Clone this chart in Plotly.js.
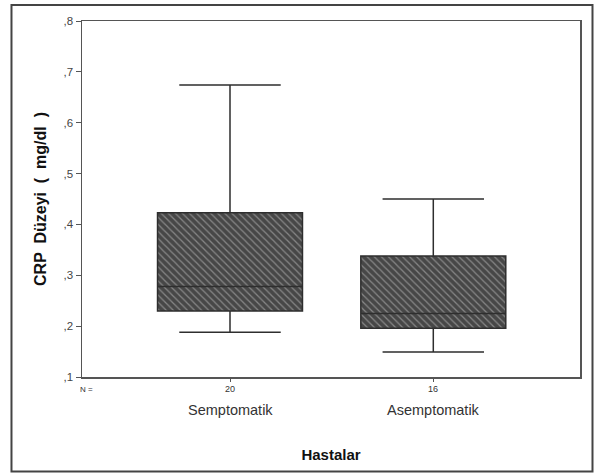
<!DOCTYPE html>
<html>
<head>
<meta charset="utf-8">
<script src="https://cdn.plot.ly/plotly-3.0.1.min.js"></script>
<style>
html,body{margin:0;padding:0;background:#fff;}
#chart{width:595px;height:473px;}
</style>
</head>
<body>
<div id="chart"></div>
<script>
// ---- data ----
const categories = ['Semptomatik', 'Asemptomatik'];
const nCounts = [20, 16];
const lowerWhisker = [0.188, 0.149];
const q1Values = [0.230, 0.196];
const medianValues = [0.278, 0.225];
const q3Values = [0.423, 0.338];
const upperWhisker = [0.674, 0.450];
const yTickVals = [0.1, 0.2, 0.3, 0.4, 0.5, 0.6, 0.7, 0.8];
const yTickText = [',1', ',2', ',3', ',4', ',5', ',6', ',7', ',8'];

const boxWidth = 0.713;

// hatched body of the boxes
const hatch = {
  type: 'bar',
  x: categories,
  y: q3Values.map((v, i) => v - q1Values[i]),
  base: q1Values,
  width: boxWidth,
  marker: {
    color: '#474747',
    line: {width: 0},
    pattern: {shape: '\\', fgcolor: '#c6c6c6', size: 5, solidity: 0.25, fillmode: 'overlay'}
  },
  hoverinfo: 'skip',
  showlegend: false
};

const boxes = {
  type: 'box',
  x: categories,
  q1: q1Values,
  median: medianValues,
  q3: q3Values,
  lowerfence: lowerWhisker,
  upperfence: upperWhisker,
  width: boxWidth,
  whiskerwidth: 0.7,
  boxpoints: false,
  fillcolor: 'rgba(0,0,0,0)',
  line: {color: '#2e2e2e', width: 1.5},
  showlegend: false
};

const annotations = [];
categories.forEach((c, i) => {
  annotations.push({x: c, xref: 'x', y: -0.034, yref: 'paper', yanchor: 'middle',
    text: String(nCounts[i]), showarrow: false,
    font: {family: 'Liberation Sans, Arial, sans-serif', size: 9, color: '#333'}});
  annotations.push({x: c, xref: 'x', y: -0.094, yref: 'paper', yanchor: 'middle',
    text: c, showarrow: false,
    font: {family: 'Liberation Sans, Arial, sans-serif', size: 14.5, color: '#333'}});
});
annotations.push({x: -0.008, xref: 'paper', y: -0.034, yref: 'paper', yanchor: 'middle',
  text: 'N =', showarrow: false,
  font: {family: 'Liberation Sans, Arial, sans-serif', size: 8, color: '#333'}});

const layout = {
  width: 595, height: 473,
  margin: {l: 82, r: 15, t: 21, b: 96},
  paper_bgcolor: '#fff', plot_bgcolor: '#fff',
  showlegend: false,
  barmode: 'overlay',
  xaxis: {
    type: 'category',
    range: [-0.728, 1.7216],
    showticklabels: false,
    ticks: 'outside', ticklen: 3, tickcolor: '#555', tickwidth: 1,
    showline: true, linecolor: '#555', linewidth: 1.5, mirror: true,
    showgrid: false, zeroline: false,
    title: {text: 'Hastalar', standoff: 69,
      font: {family: 'Liberation Sans, Arial, sans-serif', size: 15, color: '#111', weight: 'bold'}}
  },
  yaxis: {
    range: [0.1, 0.8],
    tickvals: yTickVals, ticktext: yTickText,
    ticks: 'outside', ticklen: 5, tickcolor: '#555', tickwidth: 1,
    tickfont: {family: 'Liberation Sans, Arial, sans-serif', size: 11.5, color: '#444'},
    showline: true, linecolor: '#555', linewidth: 1.5, mirror: true,
    showgrid: false, zeroline: false,
    title: {text: 'CRP  Düzeyi  (  mg/dl  )', standoff: 13,
      font: {family: 'Liberation Sans, Arial, sans-serif', size: 16, color: '#111', weight: 'bold'}}
  },
  annotations: annotations,
  shapes: [{
    type: 'rect', xref: 'paper', yref: 'paper',
    x0: -0.1416, x1: 1.0251, y0: -0.2654, y1: 1.0449,
    line: {color: '#444', width: 2}, fillcolor: 'rgba(0,0,0,0)', layer: 'below'
  }]
};

Plotly.newPlot('chart', [hatch, boxes], layout, {displayModeBar: false, staticPlot: true});
</script>
</body>
</html>
